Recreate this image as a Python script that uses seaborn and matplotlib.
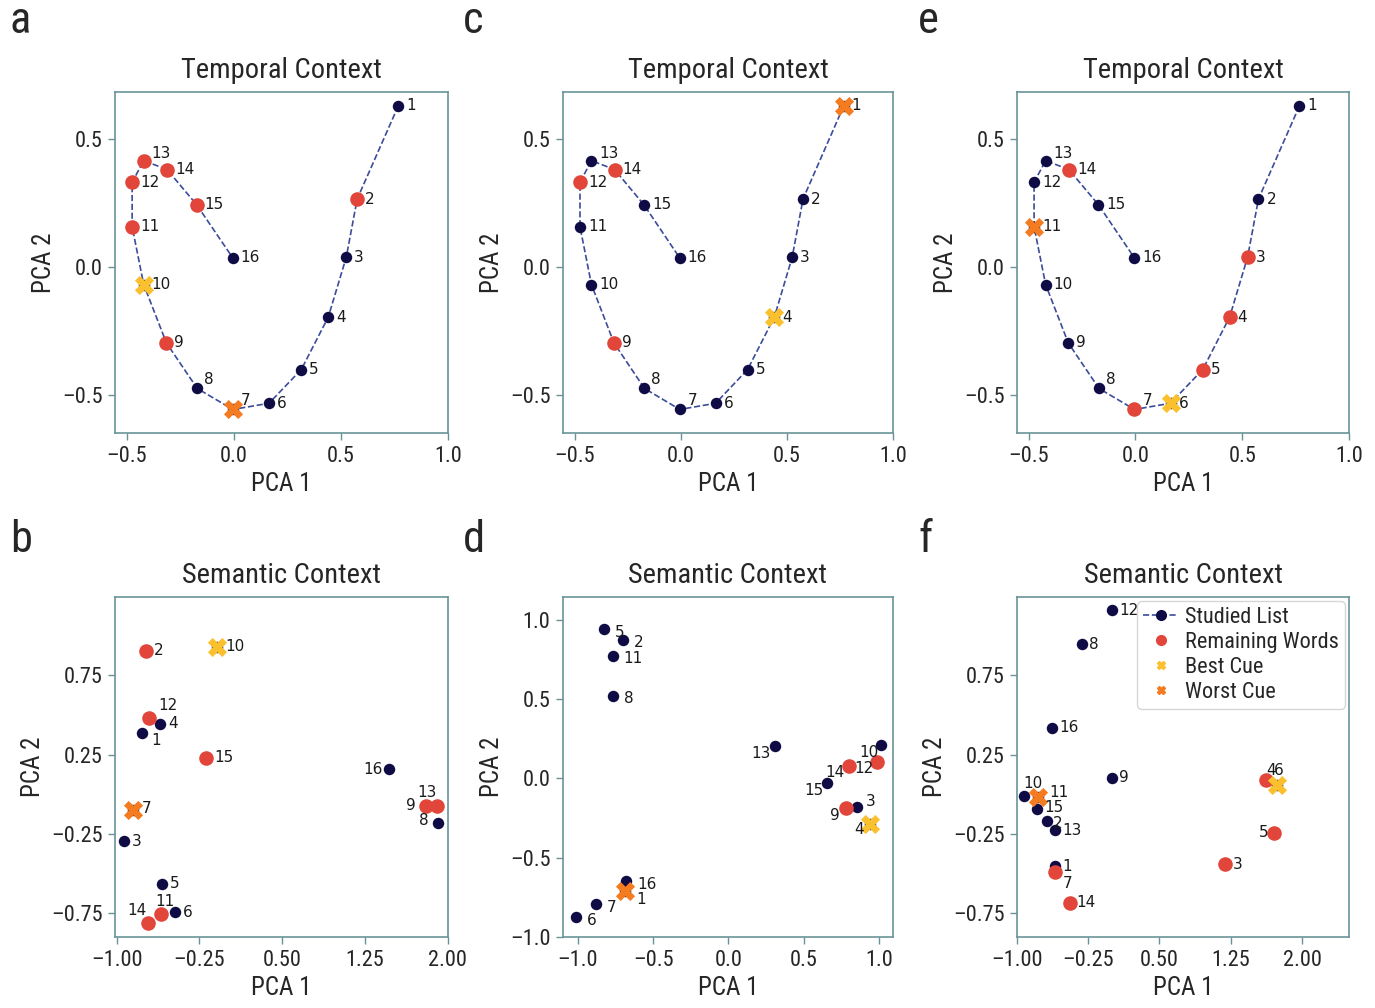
import numpy as np
import pandas as pd
import matplotlib
matplotlib.use("Agg")
import matplotlib.pyplot as plt
import seaborn as sns
from matplotlib import font_manager
from matplotlib.lines import Line2D

sns.set_style("white")

# pick a condensed sans if one is installed
installed = {f.name for f in font_manager.fontManager.ttflist}
narrow = [n for n in ['Liberation Sans Narrow', 'Roboto Condensed', 'Open Sans Condensed',
                      'Noto Sans Condensed', 'DejaVu Sans Condensed'] if n in installed]
if not narrow:
    narrow = sorted(n for n in installed if 'Condensed' in n or 'Narrow' in n)
main_font = narrow[0] if narrow else 'Liberation Sans'
plt.rcParams['font.family'] = [main_font, 'DejaVu Sans']

# word ids 1..16
words = list(range(1, 17))

# temporal context PCA (same studied list in a, c, e)
temporal_x = [0.768, 0.576, 0.525, 0.441, 0.315, 0.164, -0.005, -0.171,
              -0.315, -0.421, -0.475, -0.475, -0.421, -0.312, -0.174, -0.005]
temporal_y = [0.630, 0.266, 0.039, -0.195, -0.400, -0.532, -0.556, -0.474,
              -0.296, -0.068, 0.158, 0.331, 0.416, 0.381, 0.244, 0.036]

# semantic context PCA
sem_b_x = [-0.767, -0.737, -0.934, -0.607, -0.592, -0.471, -0.855, 1.915,
           1.804, -0.088, -0.598, -0.707, 1.900, -0.713, -0.190, 1.471]
sem_b_y = [0.387, 0.903, -0.296, 0.445, -0.563, -0.742, -0.101, -0.179,
           -0.076, 0.929, -0.752, 0.477, -0.076, -0.809, 0.231, 0.158]

sem_d_x = [-0.687, -0.698, 0.857, 0.943, -0.828, -1.011, -0.883, -0.764,
           0.778, 1.015, -0.769, 0.989, 0.306, 0.800, 0.652, -0.681]
sem_d_y = [-0.712, 0.874, -0.181, -0.286, 0.943, -0.874, -0.792, 0.521,
           -0.187, 0.212, 0.773, 0.107, 0.202, 0.076, -0.029, -0.649]

sem_f_x = [-0.596, -0.684, 1.193, 1.621, 1.709, 1.737, -0.604, -0.312,
           0.000, -0.923, -0.782, 0.000, -0.596, -0.446, -0.789, -0.632]
sem_f_y = [-0.454, -0.170, -0.442, 0.092, -0.242, 0.061, -0.490, 0.945,
           0.103, -0.013, -0.017, 1.160, -0.227, -0.683, -0.095, 0.418]

# which words are remaining / best cue / worst cue
remaining_ab = [2, 9, 11, 12, 13, 14, 15]
best_ab, worst_ab = 10, 7
remaining_cd = [9, 12, 14]
best_cd, worst_cd = 4, 1
remaining_ef = [3, 4, 5, 7, 14]
best_ef, worst_ef = 6, 11

navy = "#0e0b45"
red = "#e2453a"
yellow = "#fbc02d"
orange = "#f47b20"
line_c = "#3b4c9b"
spine_c = "#6a9399"

# label placement (pixels offset, alignment)
lab_temporal = {w: (8, 0, 'left') for w in words}
lab_temporal.update({7: (8, 9, 'left'), 8: (7, 9, 'left'), 13: (8, 7, 'left')})

lab_b = {w: (8, 0, 'left') for w in words}
lab_b.update({1: (9, -8, 'left'), 7: (9, 2, 'left'), 8: (-10, 2, 'right'),
              9: (-10, 1, 'right'), 11: (4, 12, 'center'), 12: (9, 13, 'left'),
              13: (-10, 14, 'center'), 14: (-2, 12, 'right'), 16: (-7, 0, 'right')})

lab_d = {w: (11, -3, 'left') for w in words}
lab_d.update({1: (11, -8, 'left'), 3: (8, 6, 'left'), 4: (-7, -6, 'right'),
              9: (-6, -7, 'right'), 10: (-3, -8, 'right'), 12: (-4, -7, 'right'),
              13: (-4, -7, 'right'), 14: (-4, -6, 'right'), 15: (-3, -7, 'right')})

lab_f = {w: (7, 0, 'left') for w in words}
lab_f.update({2: (6, -2, 'left'), 4: (5, 9, 'center'), 5: (-6, 0, 'right'),
              6: (2, 14, 'center'), 7: (8, -11, 'left'), 10: (9, 13, 'center'),
              11: (12, 4, 'left'), 15: (7, 2, 'left')})


def draw_panel(ax, xs, ys, remaining, best, worst, labels, connect):
    df = pd.DataFrame({'x': xs, 'y': ys, 'word': words})
    if connect:
        sns.lineplot(data=df, x='x', y='y', sort=False, estimator=None, ax=ax,
                     color=line_c, lw=1.2, linestyle='--', zorder=2)
    sns.scatterplot(data=df, x='x', y='y', ax=ax, color=navy, s=68,
                    linewidth=0, zorder=3)
    sns.scatterplot(data=df[df['word'].isin(remaining)], x='x', y='y', ax=ax,
                    color=red, s=110, linewidth=0, zorder=4)
    sns.scatterplot(data=df[df['word'] == best], x='x', y='y', ax=ax,
                    color=yellow, marker='X', s=190, linewidth=0, zorder=5)
    sns.scatterplot(data=df[df['word'] == worst], x='x', y='y', ax=ax,
                    color=orange, marker='X', s=190, linewidth=0, zorder=5)
    for w, x, y in zip(words, xs, ys):
        dx, dy, ha = labels[w]
        ax.annotate(str(w), (x, y), xytext=(dx, dy), textcoords='offset pixels',
                    ha=ha, va='center', fontsize=11, family='DejaVu Sans',
                    color='#1a1a1a', zorder=6)


def style_axes(ax, title, xlim, ylim, xticks, yticks, fmt):
    ax.set_xlim(*xlim)
    ax.set_ylim(*ylim)
    ax.set_xticks(xticks)
    ax.set_yticks(yticks)
    ax.set_xticklabels([fmt.format(v).replace('-', '\u2013') for v in xticks])
    ax.set_yticklabels([fmt.format(v).replace('-', '\u2013') for v in yticks])
    ax.set_title(title, fontsize=20.5, pad=10)
    ax.set_xlabel("PCA 1", fontsize=18, labelpad=4)
    ax.set_ylabel("PCA 2", fontsize=18, labelpad=4)
    for sp in ax.spines.values():
        sp.set_color(spine_c)
        sp.set_linewidth(1.2)
    ax.tick_params(bottom=True, left=True, direction='out', length=5, width=1,
                   color=spine_c, labelsize=16, pad=4)


fig = plt.figure(figsize=(13.75, 10.08), dpi=100)
W, H = 1375, 1008


def add_ax(l, t, r, b):
    return fig.add_axes([l / W, 1 - b / H, (r - l) / W, (b - t) / H])


ax_a = add_ax(115, 92, 448, 433)
ax_c = add_ax(563, 92, 893, 433)
ax_e = add_ax(1017, 92, 1349, 433)
ax_b = add_ax(115, 597, 448, 937)
ax_d = add_ax(563, 597, 893, 937)
ax_f = add_ax(1017, 597, 1349, 937)

draw_panel(ax_a, temporal_x, temporal_y, remaining_ab, best_ab, worst_ab, lab_temporal, True)
draw_panel(ax_c, temporal_x, temporal_y, remaining_cd, best_cd, worst_cd, lab_temporal, True)
draw_panel(ax_e, temporal_x, temporal_y, remaining_ef, best_ef, worst_ef, lab_temporal, True)
draw_panel(ax_b, sem_b_x, sem_b_y, remaining_ab, best_ab, worst_ab, lab_b, False)
draw_panel(ax_d, sem_d_x, sem_d_y, remaining_cd, best_cd, worst_cd, lab_d, False)
draw_panel(ax_f, sem_f_x, sem_f_y, remaining_ef, best_ef, worst_ef, lab_f, False)

t_xt = [-0.5, 0.0, 0.5, 1.0]
t_yt = [-0.5, 0.0, 0.5]
for ax in (ax_a, ax_c, ax_e):
    style_axes(ax, "Temporal Context", (-0.555, 1.0), (-0.648, 0.684), t_xt, t_yt, "{:.1f}")

s_xt = [-1.0, -0.25, 0.5, 1.25, 2.0]
s_yt = [-0.75, -0.25, 0.25, 0.75]
style_axes(ax_b, "Semantic Context", (-1.015, 2.003), (-0.899, 1.242), s_xt, s_yt, "{:.2f}")
style_axes(ax_d, "Semantic Context", (-1.099, 1.093), (-0.998, 1.145),
           [-1.0, -0.5, 0.0, 0.5, 1.0], [-1.0, -0.5, 0.0, 0.5, 1.0], "{:.1f}")
style_axes(ax_f, "Semantic Context", (-1.0, 2.495), (-0.899, 1.242), s_xt, s_yt, "{:.2f}")

handles = [
    Line2D([0], [0], color=line_c, ls='--', lw=1.2, marker='o', mfc=navy, mec=navy, ms=7),
    Line2D([0], [0], ls='none', marker='o', mfc=red, mec=red, ms=7),
    Line2D([0], [0], ls='none', marker='X', mfc=yellow, mec=yellow, ms=6),
    Line2D([0], [0], ls='none', marker='X', mfc=orange, mec=orange, ms=6),
]
ax_f.legend(handles, ["Studied List", "Remaining Words", "Best Cue", "Worst Cue"],
            loc='upper right', fontsize=16, handlelength=1.6, handletextpad=0.3,
            labelspacing=0.18, borderpad=0.25, borderaxespad=0.2, frameon=True)

for letter, x, y in [('a', 10, 33), ('c', 463, 33), ('e', 918, 33),
                     ('b', 10, 552), ('d', 463, 552), ('f', 918, 552)]:
    fig.text(x / W, 1 - y / H, letter, fontsize=32, ha='left', va='baseline')

fig.savefig("out.png", dpi=100)
